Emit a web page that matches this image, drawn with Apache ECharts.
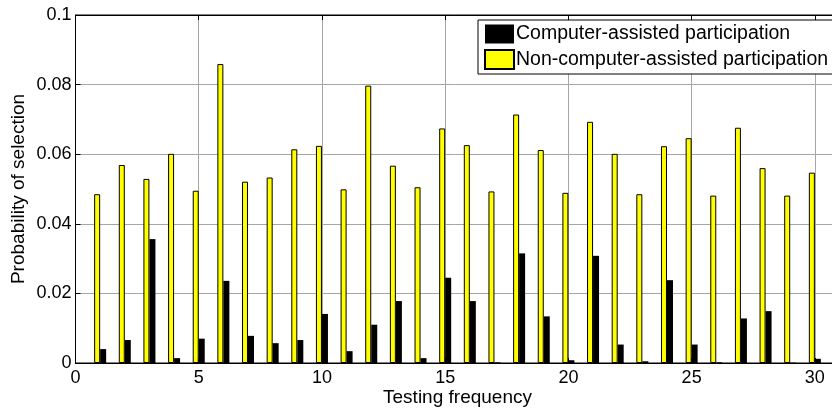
<!DOCTYPE html>
<html>
<head>
<meta charset="utf-8">
<script src="https://cdn.jsdelivr.net/npm/echarts@6/dist/echarts.min.js"></script>
<style>html,body{margin:0;padding:0;background:#fff;overflow:hidden}#c{width:832px;height:408px}</style>
</head>
<body>
<div id="c"></div>
<script>
var frequencies = [1,2,3,4,5,6,7,8,9,10,11,12,13,14,15,16,17,18,19,20,21,22,23,24,25,26,27,28,29,30];
var computerAssisted = [0.0040,0.0066,0.0356,0.0014,0.0070,0.0236,0.0078,0.0057,0.0066,0.0141,
  0.0034,0.0110,0.0178,0.0014,0.0245,0.0178,0.0002,0.0315,0.0134,0.0008,
  0.0308,0.0053,0.0005,0.0238,0.0053,0.0002,0.0128,0.0149,0.0001,0.0012];
var nonComputerAssisted = [0.0485,0.0569,0.0529,0.0601,0.0495,0.0859,0.0521,0.0533,0.0614,0.0624,
  0.0499,0.0797,0.0567,0.0505,0.0674,0.0626,0.0493,0.0714,0.0612,0.0489,
  0.0693,0.0601,0.0485,0.0623,0.0646,0.0481,0.0676,0.0560,0.0481,0.0547];
var seriesNames = ['Computer-assisted participation','Non-computer-assisted participation'];
var xTitle = 'Testing frequency';
var yTitle = 'Probability of selection';

function pairs(vals){ return frequencies.map(function(f,i){ return [f, vals[i]]; }); }

var FONT = 'Liberation Sans, Arial, sans-serif';
var chart = echarts.init(document.getElementById('c'), null, {renderer:'canvas'});
chart.setOption({
  animation:false,
  backgroundColor:'#fff',
  grid:{left:75.5, width:764, top:15, bottom:45, outerBoundsMode:'none', containLabel:false,
        show:true, borderColor:'#000', borderWidth:1, backgroundColor:'transparent'},
  legend:{
    data:seriesNames,
    orient:'vertical',
    left:478, top:20,
    padding:[4,6,4,6],
    itemGap:5,
    itemWidth:29, itemHeight:19,
    icon:'rect',
    backgroundColor:'#fff',
    borderColor:'#000', borderWidth:1,
    textStyle:{fontFamily:FONT, fontSize:19.5, color:'#000', padding:[0,0,0,-3]}
  },
  xAxis:[{
    type:'value', min:0, max:31, interval:5, position:'bottom',
    name:xTitle, nameLocation:'middle', nameGap:25, nameMoveOverlap:false,
    nameTextStyle:{fontFamily:FONT, fontSize:19, color:'#000'},
    axisLine:{show:true, lineStyle:{color:'#000', width:1}},
    axisTick:{show:true, inside:true, length:5, lineStyle:{color:'#000'}},
    axisLabel:{fontFamily:FONT, fontSize:18, color:'#000', margin:6, showMaxLabel:false},
    splitLine:{show:true, lineStyle:{color:'#a6a6a6', width:1}}
  },{
    type:'value', min:0, max:31, interval:5, position:'top',
    axisLine:{show:true, lineStyle:{color:'#000', width:1}},
    axisTick:{show:true, inside:true, length:5, lineStyle:{color:'#000'}},
    axisLabel:{show:false},
    splitLine:{show:false}
  }],
  yAxis:[{
    type:'value', min:0, max:0.1, interval:0.02,
    name:yTitle, nameLocation:'middle', nameGap:47, nameRotate:90, nameMoveOverlap:false,
    nameTextStyle:{fontFamily:FONT, fontSize:19, color:'#000'},
    axisLine:{show:true, lineStyle:{color:'#000', width:1}},
    axisTick:{show:true, inside:true, length:5, lineStyle:{color:'#000'}},
    axisLabel:{fontFamily:FONT, fontSize:18, color:'#000', margin:4},
    splitLine:{show:true, lineStyle:{color:'#a6a6a6', width:1}}
  }],
  series:[{
    name:seriesNames[1], type:'bar', xAxisIndex:0,
    data:pairs(nonComputerAssisted),
    barWidth:6, barGap:'0%',
    itemStyle:{color:'#ffff00', borderColor:'#000', borderWidth:1}
  },{
    name:seriesNames[0], type:'bar', xAxisIndex:0,
    data:pairs(computerAssisted),
    barWidth:6, barGap:'0%',
    itemStyle:{color:'#000', borderColor:'#000', borderWidth:0}
  }]
});
</script>
</body>
</html>
